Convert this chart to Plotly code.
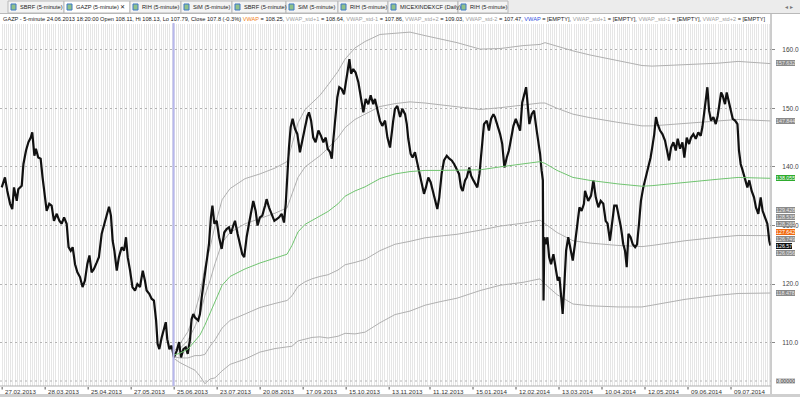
import plotly.graph_objects as go

# ---------------- data ----------------
# x unit = trading session index; y = price
price_session = [0.8, 2.3, 3.4, 4.7, 5.7, 6.5, 7.8, 8.5, 10.1, 10.9, 12.1, 13.2, 14.3, 15.0, 16.0, 16.7, 17.8, 18.9,
                 19.8, 20.9, 21.7, 22.9, 24.0, 25.1, 26.4, 27.6, 28.7, 29.8, 31.0, 31.9, 32.9, 33.8, 34.9, 36.0, 37.2,
                 38.4, 39.5, 40.6, 41.6, 42.6, 43.7, 45.0, 46.0, 47.3, 48.4, 49.6, 50.7, 51.6, 52.4, 53.2, 54.3, 55.3,
                 56.6, 57.7, 58.6, 59.4, 60.5, 61.6, 62.8, 63.9, 65.1, 66.4, 67.4, 68.2, 69.5, 70.5, 71.6, 72.6, 73.3,
                 74.1, 75.2, 76.0, 77.1, 77.8, 78.8, 79.8, 80.9, 82.2, 83.3, 84.2, 85.3, 86.4, 87.3, 88.4, 89.1, 89.9,
                 90.7, 92.2, 93.0, 93.8, 94.9, 96.1, 97.2, 98.1, 98.8, 99.7, 100.8, 101.9, 103.1, 104.3, 105.4, 106.5,
                 107.4, 108.5, 109.3, 110.5, 111.6, 112.7, 113.6, 114.7, 115.8, 117.1, 117.8, 118.9, 119.8, 120.9,
                 122.0, 123.3, 124.0, 125.1, 126.4, 127.6, 128.7, 129.8, 131.0, 132.1, 132.9, 133.6, 134.4, 135.2,
                 136.1, 137.2, 138.3, 139.5, 140.6, 141.9, 143.0, 143.7, 144.7, 145.7, 146.8, 148.1, 149.3, 150.4,
                 151.5, 152.4, 153.5, 154.3, 155.0, 155.8, 156.9, 157.8, 158.9, 160.0, 160.9, 161.7, 162.5, 163.3,
                 164.3, 165.4, 166.7, 167.8, 169.0, 170.1, 171.3, 172.4, 173.6, 174.4, 175.5, 176.7, 177.8, 179.1,
                 180.2, 181.4, 182.9, 183.7, 184.8, 186.1, 187.1, 188.4, 189.2, 189.9, 191.0, 191.9, 193.0, 193.8,
                 195.0, 196.1, 197.2, 198.1, 199.2, 200.3, 201.2, 202.3, 203.4, 204.3, 205.4, 206.5, 207.8, 209.0,
                 210.1, 211.2, 212.4, 213.5, 214.4, 215.2, 216.3, 217.1, 218.3, 219.1, 220.2, 221.2, 222.0, 223.0,
                 224.0, 225.1, 226.4, 227.4, 228.4, 229.5, 230.2, 231.3, 232.6, 233.6, 234.6, 235.7, 236.7, 237.7,
                 238.8, 239.9, 240.8, 241.9, 242.9, 243.9, 244.7, 245.4, 246.2, 247.3, 248.4, 249.2, 250.1, 251.2,
                 251.9, 252.5, 252.8, 253.2, 253.8, 254.6, 255.4, 256.3, 257.4, 258.5, 259.4, 260.2, 260.9, 261.7,
                 262.5, 263.3, 264.3, 265.4, 266.4, 267.4, 268.5, 269.5, 270.5, 271.6, 272.1, 273.6, 274.9, 276.0,
                 277.1, 278.3, 279.4, 280.6, 281.7, 282.6, 283.7, 284.5, 285.7, 286.8, 287.9, 288.8, 289.9, 290.7,
                 291.5, 292.3, 293.3, 294.3, 295.4, 296.3, 297.2, 298.1, 299.2, 300.3, 301.6, 302.6, 303.6, 304.3,
                 305.1, 305.9, 307.0, 308.1, 309.3, 310.4, 311.2, 312.1, 313.2, 314.3, 315.2, 316.3, 317.4, 318.3,
                 319.4, 320.5, 321.4, 322.5, 323.6, 324.8, 325.9, 326.7, 327.6, 328.4, 329.0, 329.8, 330.7, 331.8,
                 332.9, 333.8, 334.6, 335.4, 336.1, 337.2, 338.0, 338.8, 339.9, 340.8, 341.9, 343.0, 343.7, 344.5,
                 345.4, 346.5, 347.6, 348.5, 349.6, 350.7, 351.6, 352.7, 353.8, 354.7, 355.8, 356.9, 357.8, 358.3]
price_close = [136.5, 138.2, 135.9, 133.7, 132.8, 136.5, 134.2, 136.2, 136.8, 140.5, 142.8, 144.2, 145.0, 145.9,
               141.9, 143.1, 141.6, 141.4, 138.2, 135.4, 132.5, 133.7, 133.4, 130.8, 132.0, 130.8, 130.3, 131.4,
               130.3, 126.3, 125.7, 126.3, 123.4, 122.0, 121.2, 119.5, 120.6, 123.4, 124.9, 122.0, 122.6, 123.7,
               124.6, 128.6, 130.3, 131.7, 133.2, 131.7, 127.4, 125.7, 122.3, 124.6, 126.3, 125.7, 128.0, 124.6,
               122.3, 119.5, 118.9, 120.0, 119.5, 122.3, 120.6, 118.9, 118.3, 117.5, 117.2, 113.8, 109.8, 108.9,
               110.9, 112.1, 113.5, 110.6, 108.9, 109.5, 107.5, 108.6, 110.1, 107.5, 108.9, 109.2, 108.1, 110.6,
               114.0, 114.9, 114.3, 113.8, 114.9, 117.7, 120.6, 123.4, 126.8, 131.4, 133.4, 130.3, 130.8, 128.0,
               126.0, 128.8, 129.4, 129.7, 128.6, 130.0, 130.8, 128.6, 126.8, 125.1, 124.6, 128.0, 130.3, 132.5,
               134.2, 132.5, 130.0, 131.4, 131.7, 133.4, 134.5, 133.1, 131.7, 130.8, 131.1, 131.4, 132.0, 130.5,
               133.7, 139.4, 143.3, 146.8, 148.2, 146.5, 145.6, 142.5, 144.8, 146.8, 148.7, 149.3, 147.9, 145.0,
               144.2, 146.2, 145.3, 144.2, 145.0, 143.1, 142.5, 141.4, 144.5, 147.9, 151.9, 153.6, 153.3, 152.4,
               155.0, 156.4, 158.4, 155.9, 156.7, 156.1, 154.4, 152.2, 149.3, 151.6, 150.7, 152.2, 150.7, 151.6,
               149.9, 147.9, 147.0, 147.9, 145.0, 143.3, 147.9, 149.9, 150.4, 148.5, 149.9, 149.0, 147.3, 144.8,
               142.2, 141.6, 142.5, 141.1, 138.8, 137.1, 135.4, 136.5, 138.2, 137.4, 135.9, 134.2, 132.8, 134.8,
               138.8, 141.1, 141.9, 141.4, 141.1, 140.5, 139.6, 138.8, 136.5, 135.9, 137.7, 138.2, 139.9, 138.5,
               137.7, 137.1, 136.5, 138.8, 142.8, 147.3, 147.9, 146.2, 148.2, 149.0, 148.5, 147.3, 145.6, 143.9,
               139.9, 141.6, 142.8, 144.8, 147.0, 148.2, 147.3, 146.2, 151.0, 152.4, 153.6, 150.7, 147.3, 149.0,
               149.6, 147.3, 145.0, 142.2, 139.4, 137.7, 117.2, 128.0, 126.8, 128.0, 124.6, 123.4, 125.1, 122.3,
               120.6, 121.2, 117.7, 114.9, 120.0, 125.7, 128.0, 125.7, 124.0, 126.8, 130.3, 133.1, 132.5, 133.7,
               135.9, 134.2, 135.1, 137.7, 134.8, 133.1, 134.2, 133.7, 130.8, 130.3, 127.4, 129.7, 133.4, 133.4,
               131.4, 129.7, 126.8, 125.7, 122.9, 128.6, 128.0, 126.8, 126.3, 126.8, 130.3, 134.2, 136.5, 138.2,
               139.9, 141.6, 143.9, 145.6, 148.5, 147.3, 146.2, 145.6, 144.5, 142.8, 141.1, 143.3, 144.2, 142.8,
               144.8, 143.1, 144.2, 141.6, 145.0, 143.9, 145.0, 145.6, 144.8, 145.9, 145.3, 146.8, 149.6, 151.9,
               153.6, 149.6, 147.9, 148.5, 147.3, 148.7, 151.0, 152.7, 152.2, 150.7, 152.7, 151.3, 149.6, 148.2,
               147.9, 147.3, 142.8, 140.5, 139.4, 137.7, 136.5, 137.7, 135.9, 134.8, 133.1, 132.0, 134.8, 132.5,
               131.4, 130.3, 127.4, 126.57]

band_session = [80.9, 83.7, 87.4, 90.7, 93.0, 95.3, 97.7, 100.0, 103.3, 107.0, 114.0, 120.9, 127.9, 133.5, 135.8,
                138.6, 141.9, 145.1, 148.8, 152.6, 157.2, 160.5, 165.1, 169.8, 176.7, 183.7, 190.7, 197.7, 204.7,
                212.6, 223.3, 232.6, 243.3, 251.2, 253.5, 259.1, 266.5, 274.4, 287.4, 298.6, 303.3, 318.6, 334.0,
                343.3, 358.3]
vwap = [107.9, 108.2, 108.9, 110.3, 111.3, 113.0, 115.0, 117.0, 119.8, 121.3, 122.6, 123.6, 124.4, 125.1, 126.6,
        128.9, 130.2, 130.9, 131.6, 132.4, 133.7, 135.0, 135.9, 136.6, 138.0, 138.8, 139.2, 139.4, 139.4, 139.4,
        139.5, 140.0, 140.5, 140.9, 140.6, 139.4, 138.2, 137.7, 137.1, 136.7, 136.8, 137.4, 137.9, 138.2, 138.055]
vwap_std_p2 = [108.5, 109.8, 111.9, 115.3, 118.3, 123.0, 126.2, 130.0, 134.4, 136.3, 138.0, 138.8, 139.8, 140.9,
               143.8, 147.5, 149.8, 150.9, 152.2, 154.0, 156.3, 158.4, 160.3, 161.4, 162.6, 162.8, 163.0, 162.4,
               161.8, 161.2, 160.1, 160.2, 160.7, 160.9, 161.2, 160.6, 159.8, 159.1, 158.1, 157.3, 157.2, 157.4,
               157.7, 158.0, 157.632]
vwap_std_p1 = [108.2, 109.0, 110.4, 112.8, 114.8, 118.0, 120.6, 123.5, 127.1, 128.8, 130.3, 131.2, 132.1, 133.0,
               135.2, 138.2, 140.0, 140.9, 141.9, 143.2, 145.0, 146.7, 148.1, 149.0, 150.3, 150.8, 151.1, 150.9,
               150.6, 150.3, 149.8, 150.1, 150.6, 150.9, 150.9, 150.0, 149.0, 148.4, 147.6, 147.0, 147.0, 147.4,
               147.8, 148.1, 147.844]
vwap_std_m1 = [107.6, 107.4, 107.4, 107.8, 107.8, 108.0, 109.4, 110.5, 112.5, 113.8, 114.9, 116.0, 116.7, 117.2,
               118.0, 119.6, 120.4, 120.9, 121.3, 121.6, 122.4, 123.3, 123.7, 124.2, 125.7, 126.8, 127.3, 127.9,
               128.2, 128.5, 129.2, 129.9, 130.4, 130.9, 130.3, 128.8, 127.4, 127.0, 126.6, 126.4, 126.6, 127.4,
               128.0, 128.3, 128.265]
vwap_std_m2 = [107.3, 106.6, 105.9, 105.3, 104.3, 103.0, 103.8, 104.0, 105.2, 106.3, 107.2, 108.4, 109.0, 109.3,
               109.4, 110.3, 110.6, 110.9, 111.0, 110.8, 111.1, 111.6, 111.5, 111.8, 113.4, 114.8, 115.4, 116.4,
               117.0, 117.6, 118.9, 119.8, 120.3, 120.9, 120.0, 118.2, 116.6, 116.3, 116.1, 116.1, 116.4, 117.4,
               118.1, 118.4, 118.478]

date_tick_session = [1, 21, 41, 61, 81, 101, 121, 141, 161, 181, 200, 220, 240, 260, 280, 300, 320, 340]
date_labels = ["27.02.2013", "28.03.2013", "25.04.2013", "27.05.2013", "25.06.2013", "23.07.2013", "20.08.2013",
               "17.09.2013", "15.10.2013", "13.11.2013", "11.12.2013", "15.01.2014", "12.02.2014", "13.03.2014",
               "10.04.2014", "12.05.2014", "09.06.2014", "09.07.2014"]
price_ticks = [110, 120, 130, 140, 150, 160]
anchor_session = 80.7

right_labels = ["157.632", "147.844", "138.055", "129.428", "128.535", "128.265", "127.642", "126.749",
                "126.57", "126.056", "118.478"]

tabs = ["SBRF (5-minute)", "GAZP (5-minute)", "RIH (5-minute)", "SiM (5-minute)", "SBRF (5-minute)",
        "SiM (5-minute)", "RIH (5-minute)", "MICEXINDEXCF (Daily)", "RIH (5-minute)"]

# ---------------- layout helpers ----------------
W, H = 800, 397
PL, PR, PT, PB = 0, 771, 24, 386
def fx(x):
    return x / W
def fy(y):
    return 1 - y / H

FONT = "Liberation Sans"
fig = go.Figure()

band_style = dict(color="#b0b0b0", width=1)
for arr in (vwap_std_p2, vwap_std_p1, vwap_std_m1, vwap_std_m2):
    fig.add_trace(go.Scatter(x=band_session, y=arr, mode="lines", line=band_style, hoverinfo="skip"))
fig.add_trace(go.Scatter(x=price_session, y=price_close, mode="lines",
                         line=dict(color="#111111", width=2.2), hoverinfo="skip"))
fig.add_trace(go.Scatter(x=band_session, y=vwap, mode="lines", line=dict(color="#70c470", width=1),
                         hoverinfo="skip"))

shapes = []
annotations = []

# tab bar
shapes.append(dict(type="rect", xref="paper", yref="paper", x0=0, x1=1, y0=fy(13), y1=1,
                   fillcolor="#ececec", line=dict(width=0), layer="below"))
tab_x = [(8, 64), (64, 130), (130, 181), (181, 232), (232, 286), (286, 338), (338, 388), (388, 458), (458, 508)]
for i, (name, (a, b)) in enumerate(zip(tabs, tab_x)):
    active = (i == 1)
    shapes.append(dict(type="rect", xref="paper", yref="paper", x0=fx(a), x1=fx(b), y0=fy(13), y1=fy(1),
                       fillcolor="#ffffff" if active else "#f4f4f4", line=dict(color="#b9b9b9", width=1)))
    shapes.append(dict(type="rect", xref="paper", yref="paper", x0=fx(a + 3), x1=fx(a + 8), y0=fy(10), y1=fy(4),
                       fillcolor="#8fc18a", line=dict(color="#3c78c8", width=1)))
    txt = name + (" ✕" if active else "")
    annotations.append(dict(xref="paper", yref="paper", x=fx(a + 10), y=fy(7), text=txt, showarrow=False,
                            xanchor="left", yanchor="middle",
                            font=dict(family=FONT, size=5.7, color="#222222")))
annotations.append(dict(xref="paper", yref="paper", x=fx(789), y=fy(7), text="◂ ▸", showarrow=False,
                        xanchor="center", yanchor="middle", font=dict(family=FONT, size=5.5, color="#777777")))
shapes.append(dict(type="line", xref="paper", yref="paper", x0=0, x1=1, y0=fy(13.5), y1=fy(13.5),
                   line=dict(color="#b9b9b9", width=1)))

# info line
info = ("GAZP - 5-minute 24.06.2013 18:20:00 Open 108.11, Hi 108.13, Lo 107.79, Close 107.8 (-0.3%) "
        "<span style='color:#f08020'>VWAP</span> = 108.25, "
        "<span style='color:#a0a0a0'>VWAP_std+1</span> = 108.64, "
        "<span style='color:#a0a0a0'>VWAP_std-1</span> = 107.86, "
        "<span style='color:#a0a0a0'>VWAP_std+2</span> = 109.03, "
        "<span style='color:#a0a0a0'>VWAP_std-2</span> = 107.47, "
        "<span style='color:#3050e0'>VWAP</span> = [EMPTY], "
        "<span style='color:#a0a0a0'>VWAP_std+1</span> = [EMPTY], "
        "<span style='color:#a0a0a0'>VWAP_std-1</span> = [EMPTY], "
        "<span style='color:#a0a0a0'>VWAP_std+2</span> = [EMPTY]")
annotations.append(dict(xref="paper", yref="paper", x=fx(1), y=fy(18.5), text=info, showarrow=False,
                        xanchor="left", yanchor="middle", font=dict(family=FONT, size=5.65, color="#222222")))

# right border line and bottom bar
shapes.append(dict(type="line", xref="paper", yref="paper", x0=fx(771), x1=fx(771), y0=fy(394), y1=fy(14),
                   line=dict(color="#9a9a9a", width=1)))
shapes.append(dict(type="line", xref="paper", yref="paper", x0=0, x1=fx(771), y0=fy(386), y1=fy(386),
                   line=dict(color="#b0b0b0", width=1)))
shapes.append(dict(type="line", xref="paper", yref="paper", x0=0, x1=fx(771), y0=fy(381), y1=fy(381),
                   line=dict(color="#b4b4b4", width=1, dash="2px,3px")))
shapes.append(dict(type="rect", xref="paper", yref="paper", x0=0, x1=1, y0=0, y1=fy(394),
                   fillcolor="#cfcfcf", line=dict(width=0)))

# anchor line
shapes.append(dict(type="line", xref="x", yref="paper", x0=anchor_session, x1=anchor_session,
                   y0=fy(386), y1=fy(23), line=dict(color="#b8b8ee", width=2)))

# date labels
for s, lab in zip(date_tick_session, date_labels):
    shapes.append(dict(type="line", xref="x", yref="paper", x0=s, x1=s, y0=fy(389.5), y1=fy(387),
                       line=dict(color="#555555", width=1)))
    annotations.append(dict(xref="x", yref="paper", x=s, y=fy(391), text=lab, showarrow=False,
                            xanchor="left", yanchor="middle", xshift=1,
                            font=dict(family=FONT, size=6.2, color="#333333")))

# right price labels
label_styles = {"138.055": ("#2eab2e", "#ffffff"), "127.642": ("#f26a10", "#ffffff"),
                "126.57": ("#111111", "#ffffff")}
label_y = {"157.632": 63.3, "147.844": 120.7, "138.055": 178.3, "129.428": 210.0, "128.535": 217.0,
           "128.265": 224.0, "127.642": 231.5, "126.749": 238.7, "126.57": 245.8, "126.056": 252.9, "118.478": 293.0}
for lab in right_labels:
    bg, fg = label_styles.get(lab, ("#8a8a8a", "#e8e8e8"))
    annotations.append(dict(xref="paper", yref="paper", x=fx(776), y=fy(label_y[lab]), text=lab, showarrow=False,
                            xanchor="left", yanchor="middle", bgcolor=bg, borderpad=0, borderwidth=0, height=6,
                            font=dict(family=FONT, size=5.3, color=fg)))
annotations.append(dict(xref="paper", yref="paper", x=fx(776), y=fy(381), text="0.00000", showarrow=False,
                        xanchor="left", yanchor="middle", bgcolor="#d0d0d0", borderpad=0, borderwidth=0, height=6,
                        font=dict(family=FONT, size=5.3, color="#444444")))

fig.update_layout(
    width=W, height=H, margin=dict(l=0, r=0, t=0, b=0),
    paper_bgcolor="#ffffff", plot_bgcolor="#ffffff", showlegend=False,
    xaxis=dict(domain=[fx(PL), fx(PR)], range=[0, 358.6], tick0=0, dtick=1, showgrid=True,
               gridcolor="#e6e6e6", gridwidth=1, showticklabels=False, zeroline=False, showline=False, ticks=""),
    yaxis=dict(domain=[fy(PB), fy(PT)], range=[102.611, 164.386], side="right",
               tickvals=price_ticks, ticktext=[f"{v:.1f}" for v in price_ticks],
               showgrid=True, gridcolor="#b4b4b4", griddash="2px,3px", gridwidth=1,
               ticks="outside", ticklen=3, tickcolor="#888888", ticklabelstandoff=6,
               tickfont=dict(family=FONT, size=6.5, color="#444444"),
               zeroline=False, showline=False),
    shapes=shapes, annotations=annotations,
)
fig.write_html("out.html")
